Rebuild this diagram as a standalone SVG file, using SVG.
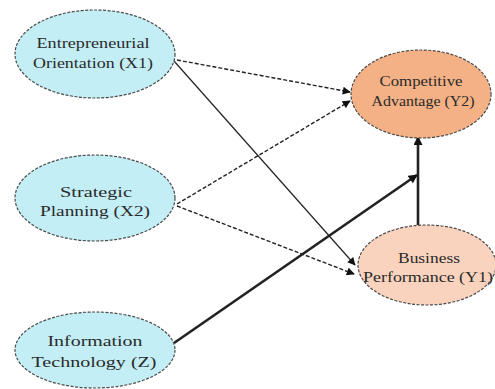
<svg xmlns="http://www.w3.org/2000/svg" width="495" height="389" viewBox="0 0 495 389">
<style>
.node ellipse{stroke:#4a4a4a;stroke-width:1.2;stroke-dasharray:3 1.5}
.x{fill:#c4eef5}
.y2{fill:#f4b185}
.y1{fill:#f9d3bd}
text{font-family:"Liberation Serif","Times New Roman",serif;font-size:14.5px;fill:#2a2a2a;text-anchor:middle}
.c line{stroke:#222}
.thin{stroke-width:1.2}
.dash{stroke-width:1.4;stroke-dasharray:4 2}
.thick{stroke-width:2.6}
</style>
<defs>
<marker id="ah" viewBox="0 0 10 10" refX="9" refY="5" markerWidth="9" markerHeight="8" markerUnits="userSpaceOnUse" orient="auto"><path d="M0,0 L10,5 L0,10 z" fill="#111"/></marker>
<marker id="ahb" viewBox="0 0 10 10" refX="9" refY="5" markerWidth="10" markerHeight="9" markerUnits="userSpaceOnUse" orient="auto"><path d="M0,0 L10,5 L0,10 z" fill="#111"/></marker>
</defs>
<rect width="495" height="389" fill="#fff"/>
<g class="c" id="connectors">
<line class="dash" x1="177" y1="60" x2="350" y2="92" marker-end="url(#ah)"/>
<line class="thin" x1="174" y1="61" x2="355" y2="265" marker-end="url(#ah)"/>
<line class="dash" x1="177" y1="204" x2="350" y2="101" marker-end="url(#ah)"/>
<line class="dash" x1="177" y1="206" x2="354" y2="274" marker-end="url(#ah)"/>
<line class="thick" x1="174" y1="343" x2="417" y2="175" marker-end="url(#ahb)"/>
<line class="thick" x1="418" y1="225" x2="418" y2="137" marker-end="url(#ahb)"/>
</g>
<g class="node" id="x1">
<ellipse class="x" cx="95" cy="54" rx="80" ry="44"/>
<text x="93" y="48" textLength="113" lengthAdjust="spacingAndGlyphs">Entrepreneurial</text>
<text x="93" y="68" textLength="120" lengthAdjust="spacingAndGlyphs">Orientation (X1)</text>
</g>
<g class="node" id="x2">
<ellipse class="x" cx="95" cy="198" rx="80" ry="43"/>
<text x="96" y="197" textLength="72" lengthAdjust="spacingAndGlyphs">Strategic</text>
<text x="95" y="216" textLength="110" lengthAdjust="spacingAndGlyphs">Planning (X2)</text>
</g>
<g class="node" id="z">
<ellipse class="x" cx="95" cy="350" rx="80" ry="38"/>
<text x="95" y="346" textLength="95" lengthAdjust="spacingAndGlyphs">Information</text>
<text x="94" y="367" textLength="125" lengthAdjust="spacingAndGlyphs">Technology (Z)</text>
</g>
<g class="node" id="y2">
<ellipse class="y2" cx="421" cy="94" rx="70" ry="44"/>
<text x="421" y="86" textLength="83" lengthAdjust="spacingAndGlyphs">Competitive</text>
<text x="423" y="106" textLength="103" lengthAdjust="spacingAndGlyphs">Advantage (Y2)</text>
</g>
<g class="node" id="y1">
<ellipse class="y1" cx="427" cy="265" rx="69" ry="40"/>
<text x="429" y="263" textLength="62" lengthAdjust="spacingAndGlyphs">Business</text>
<text x="428" y="282" textLength="130" lengthAdjust="spacingAndGlyphs">Performance (Y1)</text>
</g>
</svg>
